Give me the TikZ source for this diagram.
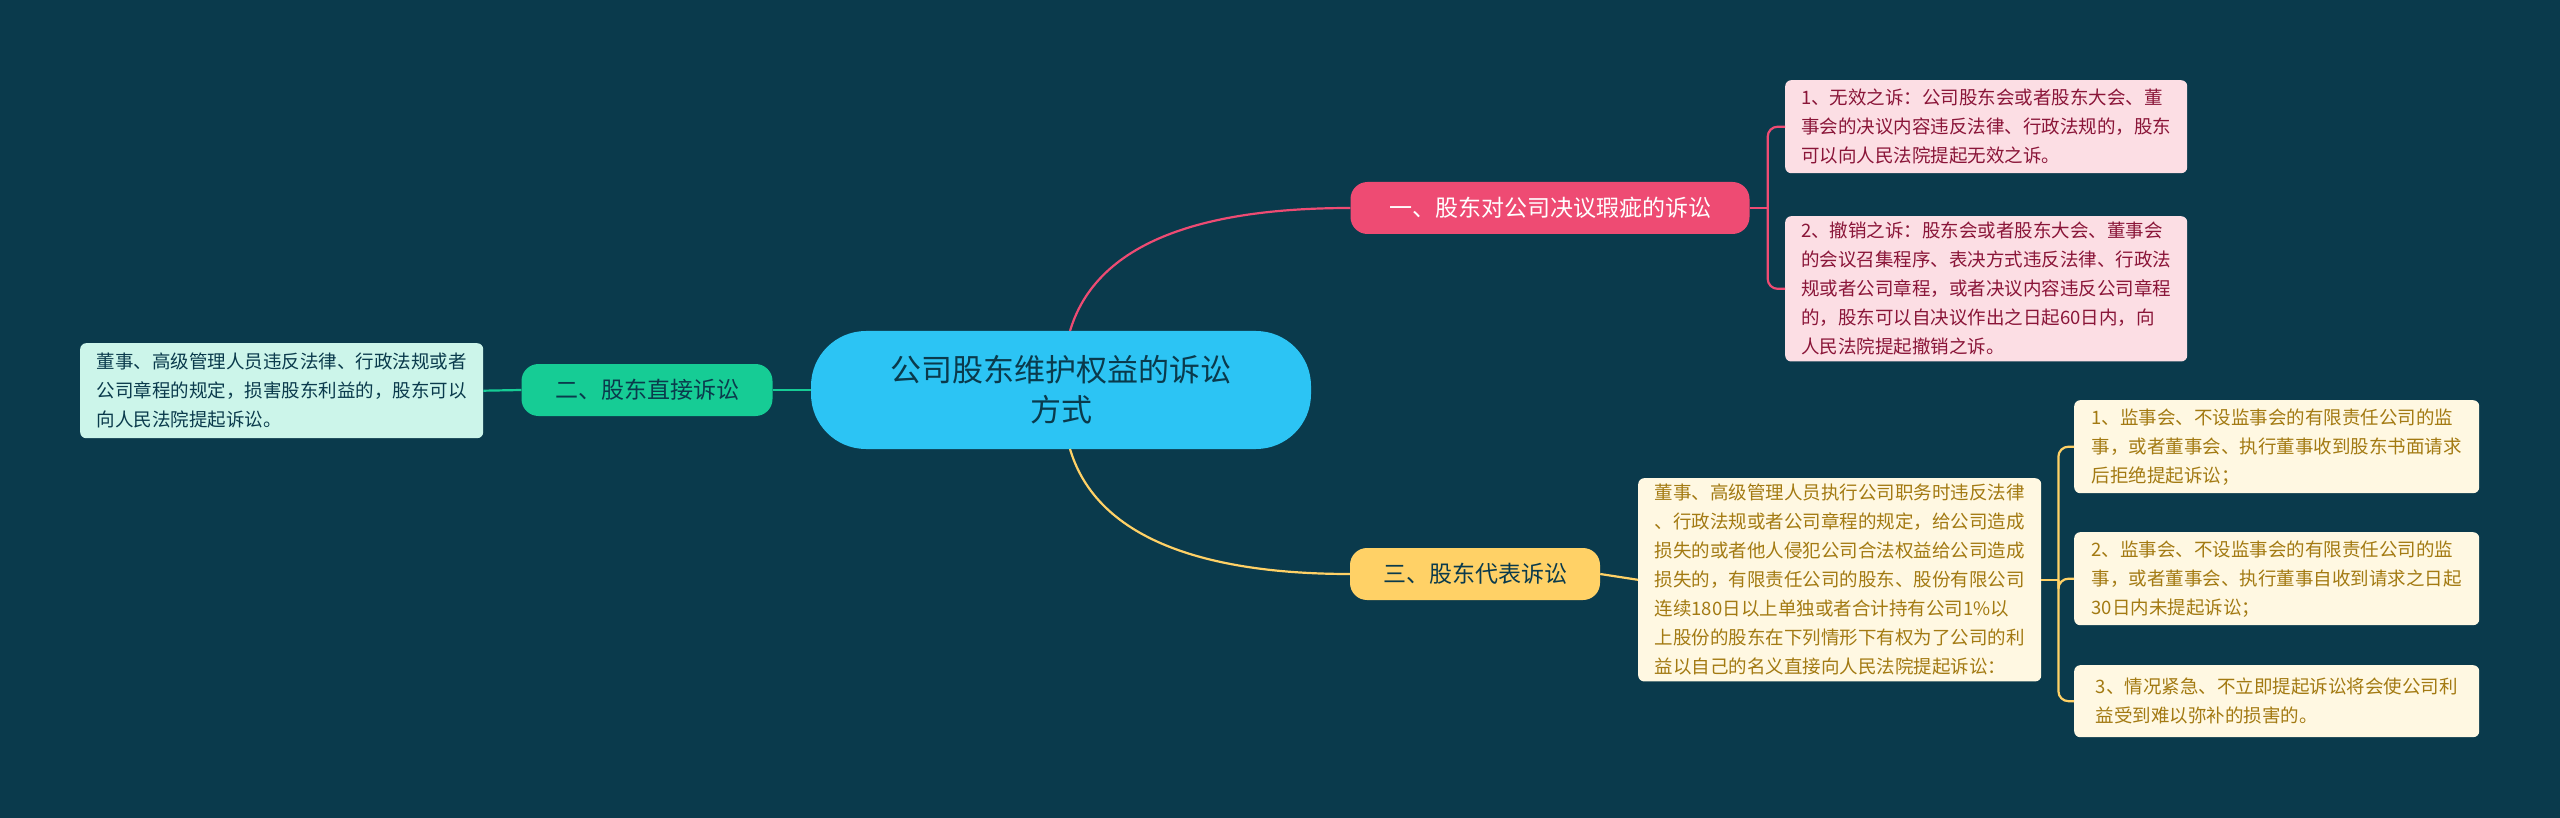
\documentclass[tikz,border=0pt]{standalone}
\usepackage{fontspec}
\setmainfont{Noto Sans CJK SC}
\begin{document}
\begin{tikzpicture}[x=1pt,y=-1pt,
  leaf/.style={rounded corners=6pt,align=left,font=\fontsize{18.5}{29}\selectfont,inner xsep=8pt,inner ysep=6pt,anchor=north west},
  br/.style={rounded corners=17pt,font=\fontsize{23}{28}\selectfont,minimum height=52pt,inner xsep=16pt},
  con/.style={line width=2.2pt}]
\definecolor{bg}{HTML}{0A3A4C}
\definecolor{pk}{HTML}{EE4B73}\definecolor{pkl}{HTML}{FCDEE4}\definecolor{pkt}{HTML}{8A1538}
\definecolor{gr}{HTML}{16CC95}\definecolor{grl}{HTML}{CCF5EA}\definecolor{grt}{HTML}{0A3A4C}
\definecolor{yl}{HTML}{FFD166}\definecolor{yll}{HTML}{FFF8E2}\definecolor{ylt}{HTML}{A37A12}
\definecolor{bl}{HTML}{2CC4F4}
\fill[bg] (0,0) rectangle (2560,818);
\useasboundingbox (0,0) rectangle (2560,818);
% root
\node[fill=bl,rounded corners=55pt,minimum width=500pt,minimum height=118pt,align=center,text=bg,font=\fontsize{31}{40}\selectfont] (root) at (1061,390) {公司股东维护权益的诉讼\\方式};
% branches
\node[br,fill=pk,text=white,minimum width=399pt] (b1) at (1550,208) {一、股东对公司决议瑕疵的诉讼};
\node[br,fill=gr,text=bg,minimum width=251pt] (b2) at (647,390) {二、股东直接诉讼};
\node[br,fill=yl,text=bg,minimum width=250pt] (b3) at (1475,574) {三、股东代表诉讼};
% leaves
\node[leaf,fill=pkl,text=pkt,minimum width=402pt,minimum height=93pt] (l1) at (1785,80) {1、无效之诉：公司股东会或者股东大会、董\\事会的决议内容违反法律、行政法规的，股东\\可以向人民法院提起无效之诉。};
\node[leaf,fill=pkl,text=pkt,minimum width=402pt,minimum height=142pt] (l2) at (1785,216) {2、撤销之诉：股东会或者股东大会、董事会\\的会议召集程序、表决方式违反法律、行政法\\规或者公司章程，或者决议内容违反公司章程\\的，股东可以自决议作出之日起60日内，向\\人民法院提起撤销之诉。};
\node[leaf,fill=grl,text=grt,minimum width=403pt,minimum height=95pt] (g1) at (80,343) {董事、高级管理人员违反法律、行政法规或者\\公司章程的规定，损害股东利益的，股东可以\\向人民法院提起诉讼。};
\node[leaf,fill=yll,text=ylt,minimum width=403pt,minimum height=192pt] (m) at (1638,478) {董事、高级管理人员执行公司职务时违反法律\\、行政法规或者公司章程的规定，给公司造成\\损失的或者他人侵犯公司合法权益给公司造成\\损失的，有限责任公司的股东、股份有限公司\\连续180日以上单独或者合计持有公司1\%以\\上股份的股东在下列情形下有权为了公司的利\\益以自己的名义直接向人民法院提起诉讼：};
\node[leaf,fill=yll,text=ylt,minimum width=405pt,minimum height=93pt] (y1) at (2074,400) {1、监事会、不设监事会的有限责任公司的监\\事，或者董事会、执行董事收到股东书面请求\\后拒绝提起诉讼；};
\node[leaf,fill=yll,text=ylt,minimum width=405pt,minimum height=93pt] (y2) at (2074,532) {2、监事会、不设监事会的有限责任公司的监\\事，或者董事会、执行董事自收到请求之日起\\30日内未提起诉讼；};
\node[leaf,fill=yll,text=ylt,minimum width=405pt,minimum height=72pt] (y3) at (2074,665) {3、情况紧急、不立即提起诉讼将会使公司利\\益受到难以弥补的损害的。};
% connectors
\coordinate (rt) at (1070,331);
\coordinate (rb) at (1070,449);
\draw[con,pk] (rt) .. controls (1100,230) and (1230,208) .. (b1.west);
\draw[con,yl] (rb) .. controls (1100,550) and (1230,574) .. (b3.west);
\draw[con,gr] (root.west) -- (b2.east);
\draw[con,gr] (b2.west) -- (g1.east);
\draw[con,yl] (b3.east) -- (m.west);
\begin{scope}[rounded corners=10pt]
\draw[con,pk] (b1.east) -- ++(18,0) coordinate (p1);
\draw[con,pk] (l1.west) -| (p1) |- (l2.west);
\draw[con,yl] (m.east) -- ++(17,0) coordinate (p2);
\draw[con,yl] (y1.west) -| (p2) |- (y3.west);
\draw[con,yl] (p2) |- (y2.west);
\end{scope}
\end{tikzpicture}
\end{document}
